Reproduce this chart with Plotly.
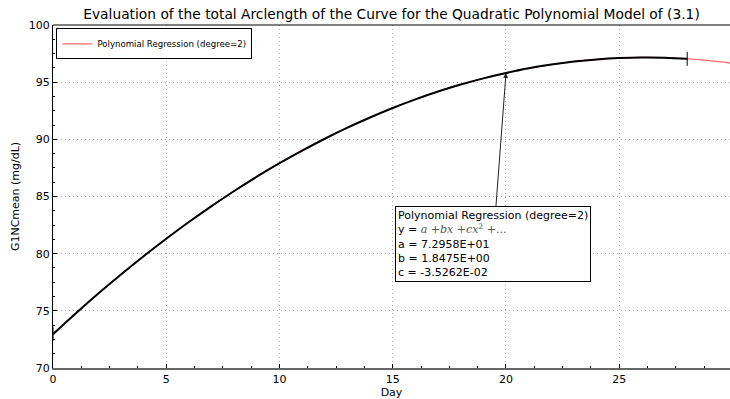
import plotly.graph_objects as go

# Fitted curve values (Day vs G1NCmean)
days = list(range(0, 31))
g1nc = [72.96, 74.77, 76.51, 78.18, 79.78, 81.31, 82.77, 84.16, 85.48, 86.73,
        87.91, 89.01, 90.05, 91.02, 91.91, 92.74, 93.49, 94.18, 94.79, 95.33,
        95.80, 96.21, 96.54, 96.80, 96.99, 97.11, 97.16, 97.14, 97.04, 96.88,
        96.65]
arc_end_day = 28
arc_days = days[:arc_end_day + 1]
arc_vals = g1nc[:arc_end_day + 1]

coef_a = "7.2958E+01"
coef_b = "1.8475E+00"
coef_c = "-3.5262E-02"
annot_day = 20
annot_val = 95.80

title = "Evaluation of the total Arclength of the Curve for the Quadratic Polynomial Model of (3.1)"
font = "DejaVu Sans"

fig = go.Figure()
fig.add_trace(go.Scatter(x=days, y=g1nc, mode="lines",
                         line=dict(color="#ff6b6b", width=1.3, shape="spline", smoothing=1),
                         name="Polynomial Regression (degree=2)"))
fig.add_trace(go.Scatter(x=arc_days, y=arc_vals, mode="lines",
                         line=dict(color="black", width=2, shape="spline", smoothing=1),
                         showlegend=False))
fig.add_trace(go.Scatter(x=[arc_days[0], arc_days[-1]], y=[arc_vals[0], arc_vals[-1]],
                         mode="markers",
                         marker=dict(symbol="line-ns", size=10,
                                     line=dict(color="black", width=1)),
                         showlegend=False))

box_text = ("Polynomial Regression (degree=2)<br>"
            "y = <span style=\"font-family:'DejaVu Serif';color:#555\"><i>a</i> +<i>bx</i> +<i>cx</i><sup>2</sup> +...</span><br>"
            f"a = {coef_a}<br>b = {coef_b}<br>c = {coef_c}")

fig.add_annotation(x=annot_day, y=annot_val, xref="x", yref="y",
                   ax=19.43, ay=80.83, axref="x", ayref="y",
                   text=box_text, align="left", showarrow=True,
                   arrowhead=2, arrowsize=1, arrowwidth=1, arrowcolor="#222",
                   bordercolor="black", borderwidth=1, borderpad=2,
                   bgcolor="white", font=dict(family=font, size=11, color="black"))

fig.update_layout(
    width=730, height=399,
    margin=dict(l=53, r=0, t=25, b=29),
    paper_bgcolor="white", plot_bgcolor="white",
    title=dict(text=title, x=0.5, xref="paper", xanchor="center",
               y=0.965, yanchor="middle",
               font=dict(family=font, size=13.8, color="black")),
    font=dict(family=font, size=11, color="black"),
    showlegend=True,
    legend=dict(x=0.005, y=0.99, xanchor="left", yanchor="top",
                bordercolor="black", borderwidth=1, bgcolor="white",
                font=dict(family=font, size=8.6), itemwidth=30,
                tracegroupgap=0),
)
fig.update_xaxes(range=[0, 29.89], tickvals=[0, 5, 10, 15, 20, 25, 30],
                 ticks="inside", ticklen=4, tickcolor="black",
                 showline=True, linecolor="#666", linewidth=2, mirror=False,
                 showgrid=True, gridcolor="#aaa", griddash="1px,3px", gridwidth=1,
                 zeroline=False,
                 minor=dict(dtick=1.25, tick0=0, ticks="inside", ticklen=2, tickcolor="black", showgrid=False),
                 title=dict(text="Day", font=dict(family=font, size=11), standoff=5))
fig.update_yaxes(range=[70, 100], tickvals=[70, 75, 80, 85, 90, 95, 100],
                 ticks="inside", ticklen=4, tickcolor="black",
                 showline=True, linecolor="black", linewidth=1, mirror=False,
                 showgrid=True, gridcolor="#aaa", griddash="1px,3px", gridwidth=1,
                 zeroline=False,
                 minor=dict(dtick=1.25, tick0=70, ticks="inside", ticklen=2, tickcolor="black", showgrid=False),
                 title=dict(text="G1NCmean (mg/dL)", font=dict(family=font, size=11), standoff=6))
# top spine
fig.add_shape(type="line", xref="paper", yref="paper", x0=0, x1=1, y0=1, y1=1,
              line=dict(color="black", width=1))

fig.write_html("out.html")
